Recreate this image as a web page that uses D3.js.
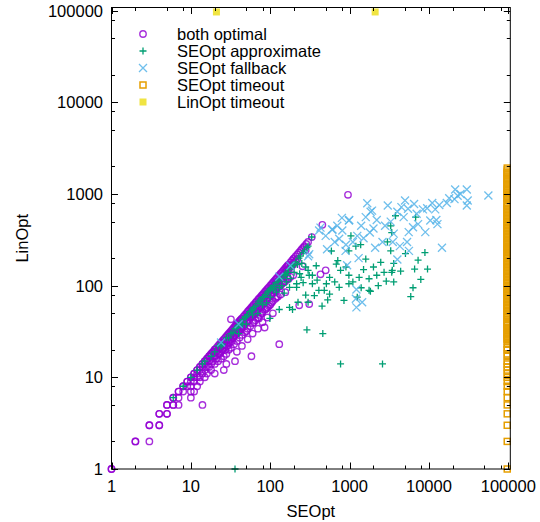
<!DOCTYPE html>
<html>
<head>
<meta charset="utf-8">
<script src="https://cdn.jsdelivr.net/npm/d3@7"></script>
<style>
  body { margin: 0; background: #fff; }
  text { font-family: "Liberation Sans", Arial, sans-serif; }
</style>
</head>
<body>
<div id="chart-area"></div>
<script>
// ---- data: [SEOpt, LinOpt] ----
const bothOptimal = [
    [1,1],[1,1],[2,2],[2,2],[3,2],[3,3],[3,3],[4,3],[4,3],[4,4],[4,4],[5,4],[5,4],[5,5],[5,5],[6,5],[6,5],[7,5],
    [6,6],[6,6],[7,6],[7,7],[7,7],[8,7],[8,8],[8,8],[9,8],[9,9],[9,9],[10,6],[11,7],[14,5],
    [10,10],[10,10],[10,9],[10,8],[10,7],[11,11],[11,11],[11,10],[11,9],[12,12],[12,12],[12,11],[12,10],[12,8],
    [13,13],[13,13],[13,12],[13,10],[13,9],[14,14],[14,14],[14,13],[14,11],[15,15],[15,15],[15,14],[15,12],[15,10],
    [16,16],[16,16],[16,15],[16,13],[16,11],[17,17],[17,17],[17,15],[17,13],[18,18],[18,18],[18,17],[18,14],[18,12],
    [19,19],[19,19],[19,17],[19,15],[20,20],[20,20],[20,19],[20,17],[20,14],[20,11],
    [21,21],[21,19],[21,16],[22,22],[22,20],[22,18],[22,15],[23,23],[23,21],[23,18],
    [24,24],[24,22],[24,19],[24,16],[25,25],[25,22],[25,20],[26,26],[26,24],[26,21],[26,17],[26,12],
    [27,27],[27,24],[27,20],[28,28],[28,25],[28,22],[28,18],[28,14],[29,29],[29,26],[29,22],
    [30,30],[30,27],[30,24],[30,20],[31,31],[31,28],[31,24],[32,32],[32,29],[32,26],[32,21],[32,43],
    [33,33],[33,30],[33,25],[34,34],[34,31],[34,27],[35,35],[35,32],[35,28],[35,23],[36,15],
    [36,36],[36,33],[36,29],[37,37],[37,33],[38,38],[38,34],[38,30],[38,25],[38,19],
    [39,39],[39,35],[39,31],[40,40],[40,36],[40,32],[41,41],[41,37],[41,33],[41,27],
    [42,42],[42,38],[43,43],[43,37],[43,33],[44,44],[44,40],[44,35],[44,29],[44,22],
    [46,46],[46,41],[46,36],[48,48],[48,43],[48,38],[48,31],[50,50],[50,45],[50,40],[50,32],
    [52,52],[52,47],[52,41],[52,34],[52,26],[54,54],[54,48],[54,42],[56,56],[56,50],[56,45],[56,36],[58,17],
    [58,58],[58,52],[58,46],[60,60],[60,54],[60,48],[60,39],[60,30],[62,62],[62,56],[62,49],[62,40],
    [65,65],[65,58],[65,51],[65,42],[67,67],[67,60],[67,52],[70,70],[70,63],[70,55],[70,45],[70,34],
    [72,72],[72,65],[72,57],[72,44],[75,75],[75,68],[75,59],[75,48],[78,78],[78,70],[78,60],[78,50],
    [80,80],[80,72],[80,63],[80,52],[80,40],[83,83],[83,75],[83,65],[86,86],[86,77],[86,68],[86,55],[85,35],
    [89,89],[89,80],[89,70],[89,56],[92,92],[92,83],[92,73],[92,58],[92,45],[96,96],[96,86],[96,75],[96,60],
    [100,100],[100,90],[100,78],[100,62],[104,104],[104,94],[104,80],[104,65],
    [108,108],[108,97],[108,84],[108,68],[108,50],[112,112],[112,100],[112,88],
    [116,116],[116,104],[116,90],[116,72],[120,120],[120,108],[120,94],[120,75],
    [125,125],[125,112],[125,96],[125,76],[130,23],[130,130],[130,115],[130,98],
    [135,135],[135,120],[135,100],[135,80],[140,140],[140,125],[140,105],
    [145,145],[145,128],[145,108],[150,150],[150,133],[150,110],[155,155],[155,138],[155,112],[155,85],
    [160,160],[160,143],[165,165],[165,148],[165,120],[170,170],[170,150],[170,118],
    [180,180],[180,160],[180,125],[188,188],[188,165],[195,195],[195,170],[195,130],
    [200,200],[200,178],[210,210],[210,185],[220,220],[220,195],[230,230],[232,61],[240,240],
    [255,163],[250,250],[260,260],[270,270],[280,245],[285,285],[310,63],[300,300],
    [334,339],[430,133],[454,462],[500,147],[955,980]
];

const approximate = [
    [6,6],[8,8],[10,10],[12,12],[14,14],[15,15],[18,17],[20,19],[22,22],[24,22],[25,23],[28,27],[30,27],
    [32,30],[34,31],[36,34],[38,35],[40,37],[42,39],[45,43],[48,45],[50,46],[52,48],[55,52],[58,53],
    [60,55],[62,58],[66,60],[70,64],[72,68],[76,70],[80,74],[84,76],[88,80],[92,85],[96,88],[100,92],
    [105,95],[110,100],[115,100],[118,108],[125,112],[130,118],[140,120],[150,130],[155,135],[165,140],
    [170,150],[185,160],[190,165],[200,170],[210,180],[230,200],[240,210],[260,230],[270,240],[290,260],
    [300,270],[333,340],
    [40,30],[45,38],[50,38],[60,48],[70,50],[80,62],[90,65],[100,75],[110,90],[120,85],[130,95],[140,100],
    [160,110],[160,130],[180,120],[200,140],[220,170],[250,175],[280,160],
    [36,1],[770,14],[2600,14],[290,33],[460,30],[130,55],[191,55],[175,58],[99,44],[224,66],[300,66],
    [360,78],[380,165],[300,147],[235,135],[260,108],[215,105],[175,96],[150,83],[510,105],[390,115],
    [530,70],[480,89],[340,130],[590,239],[1040,350],[980,240],[1380,280],[1600,195],[2470,180],
    [3300,240],[3790,580],[3000,300],[680,172],[770,147],[980,130],[1320,123],[1760,119],[2200,130],
    [2720,140],[3450,147],[310,130],[245,123],[560,123],[740,96],[560,81],[410,89],[850,69],[1250,75],
    [1760,89],[980,105],[340,105],[280,79],[215,96],[2900,112],[710,188],[6800,560],[8900,230],
    [7300,190],[9600,152],[6600,152],[7900,117],[6300,95],[5900,76],[4400,144],[3400,140],[3600,175],
    [5060,224],[3300,450],[3400,380],[1830,87],[3600,110],[1200,270],[1500,150],[2000,160],[650,110],
    [900,160],[1100,110],[2300,100],[450,60],[1400,95]
];

const fallback = [
    [24,24],[40,38],[130,125],[180,165],[310,220],[300,210],[430,430],[413,400],[600,410],[610,410],
    [810,400],[980,515],[990,520],[740,325],[890,240],[1250,350],[1670,795],[1840,640],[1920,660],
    [3030,750],[5000,850],[4500,720],[5450,690],[7000,610],[8400,680],[10400,515],[12400,520],
    [12800,470],[12000,680],[13500,760],[16800,800],[21000,880],[23000,960],[21400,1120],[30000,1120],
    [30800,850],[30000,750],[56100,963],[5560,384],[6300,435],[7300,470],[9000,384],[5300,300],
    [4300,270],[5600,240],[3600,370],[4000,193],[14600,260],[2600,300],[930,167],[1220,91],[1220,58],
    [1440,66],[1200,72],[1500,330],[2000,420],[1100,300],[1400,450],[700,450],[500,350],[800,550],
    [1600,560],[2200,520],[2800,450],[3300,500],[4000,640],[4800,560],[3500,300],[2100,260],[1800,380],
    [1300,200],[900,280],[650,300],[520,250],[6500,780],[9500,700],[11000,800],[25000,1000],[18000,900]
];

// timeouts are plotted at a fixed value on the timed-out axis
const timeoutValue = 97000;
const seoptTimeout = [
    1,2,3,4,5,6,7,8,9,10,11,12,13,14,15,17,18,20,21,23,
    25,26,27,28,29,30,31,33,34,35,37,38,40,41,43,45,46,48,50,52,54,56,58,60,62,65,67,70,72,75,
    78,81,84,87,90,94,97,101,105,109,113,117,122,126,131,136,141,147,152,158,164,170,177,183,
    190,198,205,213,221,230,238,245,
    255,262,270,280,290,300,312,323,335,348,360,374,388,403,418,433,450,467,485,503,522,542,
    562,583,605,628,652,677,702,729,757,785,798,
    883,900,920,950,975,1000,1030,1050,1100,1130,1160,1220,1260,1290,1360,1420,1460,1500,
    1570,1650,1700,1740,1830,1920
];
const linoptTimeout = [21, 2100];

const majorTicks = [1, 10, 100, 1000, 10000, 100000];
const minorSteps = [2, 5, 8];
const seriesNames = ["both optimal", "SEOpt approximate", "SEOpt fallback", "SEOpt timeout", "LinOpt timeout"];
const seriesColors = ["#9400d3", "#009e73", "#56b4e9", "#e69f00", "#f0e442"];

const width = 540;
const height = 522;

const svg = d3
    .select("#chart-area")
    .append("svg")
    .attr("width", width)
    .attr("height", height);

//Scales
const xScale = d3.scaleLog().domain([1, 106000]).range([111.5, 510.3]);
const yScale = d3.scaleLog().domain([1, 108500]).range([469, 7.5]);

const [x0, x1] = xScale.range();
const [y0, y1] = yScale.range();

const minorTicks = [];
majorTicks.forEach((t) => minorSteps.forEach((m) => {
    if (t * m < 106000) minorTicks.push(t * m);
}));

// symbol paths
const plusPath = "M-3.5,0H3.5M0,-3.5V3.5";
const crossPath = "M-4,-4L4,4M-4,4L4,-4";

const drawCircle = (sel, color) =>
    sel.append("circle").attr("r", 3.2).attr("fill", "none")
        .attr("stroke", color).attr("stroke-width", 1.4).attr("stroke-opacity", 0.82);
const drawPlus = (sel, color) =>
    sel.append("path").attr("d", plusPath).attr("fill", "none")
        .attr("stroke", color).attr("stroke-width", 1.3);
const drawCross = (sel, color) =>
    sel.append("path").attr("d", crossPath).attr("fill", "none")
        .attr("stroke", color).attr("stroke-width", 1.3).attr("stroke-opacity", 0.85);
const drawOpenSquare = (sel, color) =>
    sel.append("rect").attr("x", -3).attr("y", -3).attr("width", 6).attr("height", 6)
        .attr("fill", "none").attr("stroke", color).attr("stroke-width", 1.5);
const drawFilledSquare = (sel, color) =>
    sel.append("rect").attr("x", -3.5).attr("y", -3.5).attr("width", 7).attr("height", 7)
        .attr("fill", color);

const drawers = [drawCircle, drawPlus, drawCross, drawOpenSquare, drawFilledSquare];

const plotSeries = (data, i) => {
    const g = svg.append("g");
    data.forEach((d) => {
        const p = g.append("g")
            .attr("transform", `translate(${xScale(d[0])}, ${yScale(d[1])})`);
        drawers[i](p, seriesColors[i]);
    });
};

plotSeries(bothOptimal, 0);
plotSeries(approximate, 1);
plotSeries(fallback, 2);
plotSeries(seoptTimeout.map((v) => [timeoutValue, v]), 3);
plotSeries(linoptTimeout.map((v) => [v, timeoutValue]), 4);

// Frame and ticks (inside, mirrored)
const axis = svg.append("g").attr("stroke", "#000").attr("stroke-width", 1);

majorTicks.forEach((t) => {
    const x = Math.round(xScale(t)) + 0.5;
    const y = Math.round(yScale(t)) + 0.5;
    axis.append("line").attr("x1", x).attr("x2", x).attr("y1", y0).attr("y2", y0 - 6.5);
    axis.append("line").attr("x1", x).attr("x2", x).attr("y1", y1).attr("y2", y1 + 6.5);
    axis.append("line").attr("y1", y).attr("y2", y).attr("x1", x0).attr("x2", x0 + 6.5);
    axis.append("line").attr("y1", y).attr("y2", y).attr("x1", x1).attr("x2", x1 - 6.5);
});
minorTicks.forEach((t) => {
    const x = Math.round(xScale(t)) + 0.5;
    const y = Math.round(yScale(t)) + 0.5;
    axis.append("line").attr("x1", x).attr("x2", x).attr("y1", y0).attr("y2", y0 - 3.5);
    axis.append("line").attr("x1", x).attr("x2", x).attr("y1", y1).attr("y2", y1 + 3.5);
    axis.append("line").attr("y1", y).attr("y2", y).attr("x1", x0).attr("x2", x0 + 3.5);
    axis.append("line").attr("y1", y).attr("y2", y).attr("x1", x1).attr("x2", x1 - 3.5);
});

axis.append("rect")
    .attr("x", x0).attr("y", y1)
    .attr("width", x1 - x0).attr("height", y0 - y1)
    .attr("fill", "none");

// Tick labels
majorTicks.forEach((t) => {
    svg.append("text")
        .attr("x", xScale(t)).attr("y", 486)
        .attr("text-anchor", "middle").attr("dominant-baseline", "central")
        .attr("font-size", "16.5px")
        .text(t);
    svg.append("text")
        .attr("x", 103).attr("y", yScale(t))
        .attr("text-anchor", "end").attr("dominant-baseline", "central")
        .attr("font-size", "16.5px")
        .text(t);
});

//Labels
svg.append("text")
    .attr("x", (x0 + x1) / 2).attr("y", 511)
    .attr("text-anchor", "middle").attr("dominant-baseline", "central")
    .attr("font-size", "16.5px")
    .text("SEOpt");

svg.append("text")
    .attr("transform", `translate(22, ${(y0 + y1) / 2}) rotate(-90)`)
    .attr("text-anchor", "middle").attr("dominant-baseline", "central")
    .attr("font-size", "16.5px")
    .text("LinOpt");

// Legend
seriesNames.forEach((name, i) => {
    const row = svg.append("g").attr("transform", `translate(143, ${34 + i * 17})`);
    drawers[i](row, seriesColors[i]);
    row.append("text")
        .attr("x", 34).attr("y", 0)
        .attr("dominant-baseline", "central")
        .attr("font-size", "16.5px")
        .text(name);
});
</script>
</body>
</html>
